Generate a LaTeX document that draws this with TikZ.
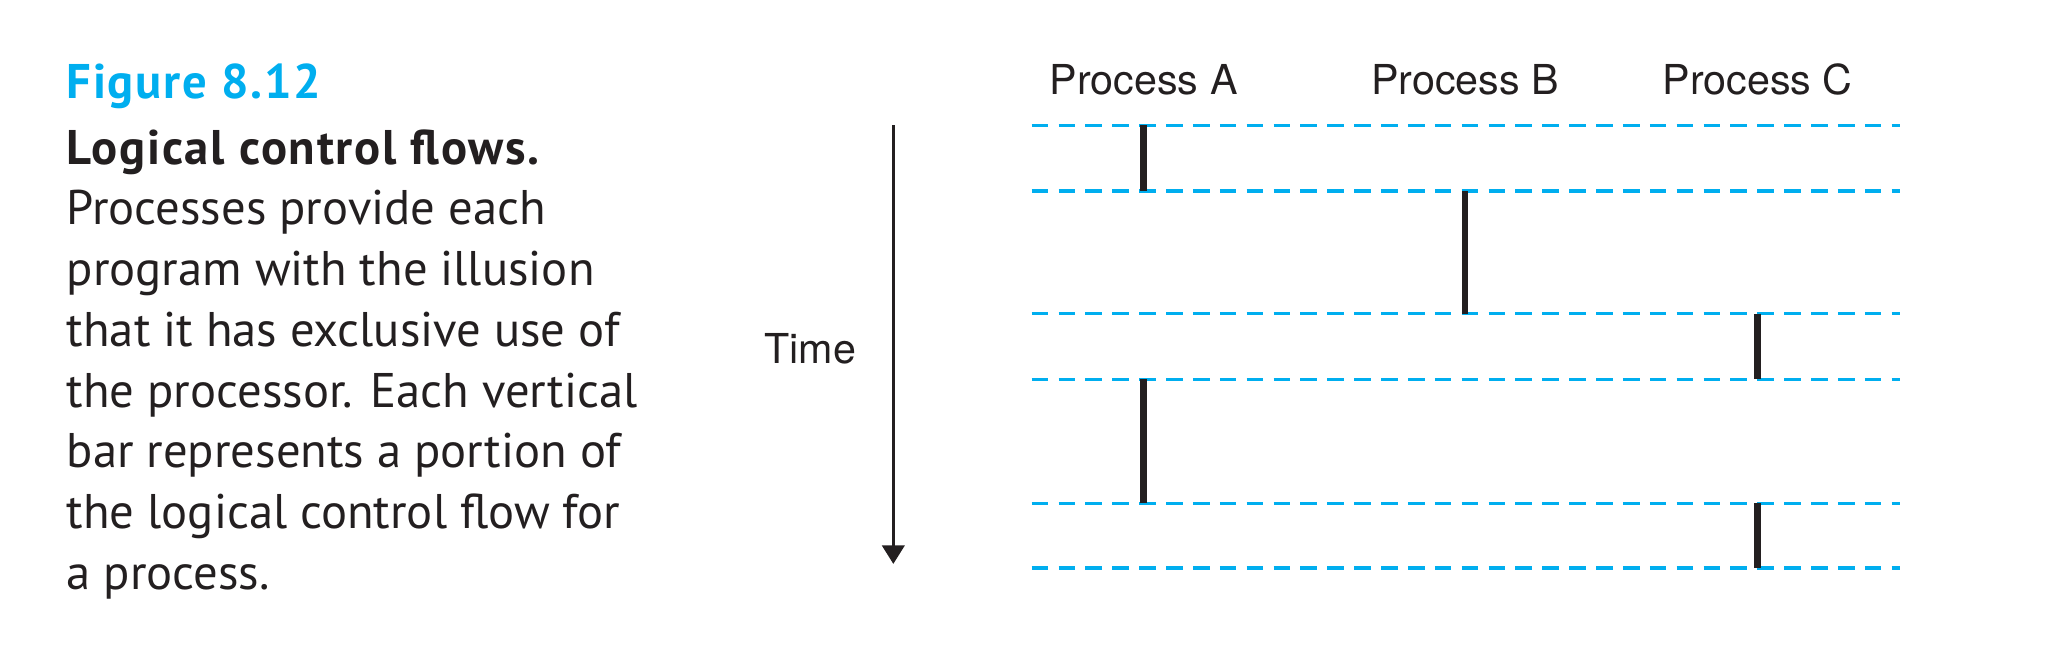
\documentclass[tikz,border=0pt]{standalone}
\usepackage{fontspec}
\setmainfont{TeX Gyre Heros}
\newfontfamily\capfont{PT Sans}
\newfontfamily\capbold{PT Sans}[LetterSpace=3.5]
\usetikzlibrary{arrows.meta}
\definecolor{figblue}{HTML}{00AEEF}
\definecolor{ink}{HTML}{231F20}

\begin{document}
\begin{tikzpicture}[x=0.01cm, y=-0.01cm, ink,
    flow/.style={figblue, line width=0.7pt, dash pattern=on 3.6pt off 2.2pt},
    bar/.style={-, line width=1.4pt},
    proc/.style={font=\fontsize{8.9pt}{10pt}\selectfont, inner sep=0pt, anchor=base}]
      \useasboundingbox (0,0) rectangle (1568,499);
      % caption
      \node [anchor=north west, align=left, inner sep=0pt,
        font=\capfont\fontsize{10.5pt}{13.1pt}\selectfont] (cap) at (50,48)
        {{\capbold\color{figblue}\bfseries Figure 8.12}\\[1pt]
         {\capbold\bfseries Logical control flows.}\\
         Processes provide each\\
         program with the illusion\\
         that it has exclusive use of\\
         the processor. Each vertical\\
         bar represents a portion of\\
         the logical control flow for\\
         a process.};
      % process labels and time axis
      \node [proc] (pa) at (868,72) {Process A};
      \node [proc] (pb) at (1112,72) {Process B};
      \node [proc] (pc) at (1334,72) {Process C};
      \node [proc] (time) at (615,276) {Time};
      \coordinate (top) at (678,95);
      \coordinate (bot) at (678,428);
      \draw [-{Triangle[width=4.8pt,length=4pt]}, line width=0.7pt] (top) -- (bot);
      % context switch lines
      \foreach \y [count=\i from 0] in {95,145,238,288,382,431} {
        \coordinate (t\i) at (783,\y);
        \coordinate (u\i) at (1442,\y);
        \draw [flow] (t\i) -- (u\i);
      }
      \path
      (pa |- t0) edge [bar] (pa |- t1)
      (pb |- t1) edge [bar] (pb |- t2)
      (pc |- t2) edge [bar] (pc |- t3)
      (pa |- t3) edge [bar] (pa |- t4)
      (pc |- t4) edge [bar] (pc |- t5)
      ;
      \end{tikzpicture}
\end{document}
